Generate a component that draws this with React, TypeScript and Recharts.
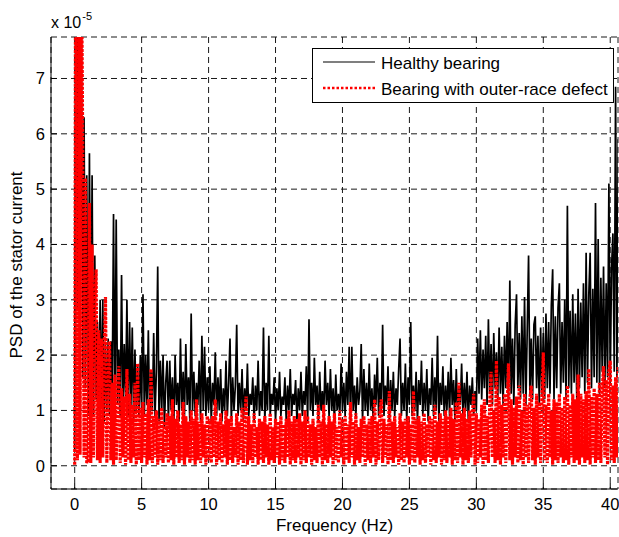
import React from "react";
import { LineChart, Line, XAxis, YAxis, CartesianGrid, Legend } from "recharts";

// PSD of the stator current, sampled every 0.1 Hz from 0 Hz (values in units of 1e-5)
const FREQ_STEP = 0.1;

const healthyPsd = [
  0.3, 13.5, 2.8, 11.0, 3.5, 8.0, 1.6, 6.3, 1.4, 5.25,
  0.9, 5.65, 1.3, 5.25, 0.9, 3.8, 1.2, 2.6, 1.0, 3.0,
  1.1, 3.0, 0.8, 2.2, 1.0, 2.3, 0.9, 2.25, 1.2, 4.55,
  0.8, 4.45, 1.1, 2.1, 0.9, 3.45, 1.0, 2.2, 1.2, 3.0,
  0.9, 2.6, 1.1, 2.5, 0.8, 2.1, 1.0, 1.8, 0.9, 2.0,
  1.0, 3.1, 0.9, 2.0, 1.1, 2.45, 0.8, 1.7, 1.0, 2.4,
  0.9, 1.7, 3.6, 0.8, 1.9, 1.0, 2.0, 0.7, 1.5, 1.9,
  0.8, 1.9, 1.0, 1.6, 0.7, 2.0, 1.1, 1.5, 0.8, 2.3,
  1.0, 1.7, 0.9, 2.2, 1.1, 1.6, 0.8, 2.75, 1.0, 1.7,
  0.9, 1.5, 1.1, 1.9, 0.8, 2.35, 1.0, 2.15, 0.9, 1.6,
  1.0, 1.8, 0.8, 1.5, 1.1, 2.05, 0.9, 1.6, 1.0, 1.75,
  0.8, 1.4, 1.0, 1.9, 0.9, 1.5, 2.3, 0.8, 1.6, 1.0,
  1.45, 2.55, 0.9, 1.5, 1.0, 1.75, 0.8, 1.4, 1.0, 1.85,
  0.9, 1.3, 1.1, 1.6, 0.8, 1.45, 1.0, 1.9, 0.9, 1.35,
  1.0, 2.5, 0.8, 1.5, 1.0, 2.35, 0.9, 1.3, 1.1, 1.6,
  0.8, 1.4, 1.0, 1.7, 0.9, 1.25, 1.1, 1.6, 0.8, 1.45,
  1.0, 1.75, 0.9, 1.3, 1.1, 1.55, 0.8, 1.4, 1.0, 1.7,
  0.9, 1.35, 1.1, 1.8, 0.8, 2.65, 1.0, 1.5, 0.9, 1.95,
  1.1, 1.45, 0.8, 1.7, 1.0, 1.35, 0.9, 1.9, 1.1, 1.5,
  0.9, 1.75, 1.0, 1.4, 0.8, 1.65, 1.0, 1.3, 0.9, 1.85,
  1.0, 1.5, 0.9, 1.7, 1.1, 2.15, 0.8, 2.15, 1.0, 1.45,
  0.9, 1.6, 1.1, 1.35, 2.2, 0.8, 1.75, 1.0, 1.5, 0.9,
  1.85, 1.0, 1.4, 0.8, 1.65, 1.1, 1.95, 0.9, 1.5, 1.0,
  2.55, 0.9, 1.45, 1.1, 1.8, 0.8, 1.55, 1.0, 1.7, 0.9,
  1.4, 1.1, 1.75, 2.3, 0.9, 1.5, 1.0, 1.85, 0.8, 1.6,
  1.1, 2.6, 0.9, 1.45, 1.0, 1.7, 0.8, 1.55, 1.1, 1.9,
  0.9, 1.5, 1.0, 1.75, 0.8, 1.4, 1.1, 1.95, 0.9, 1.6,
  1.0, 2.35, 0.8, 1.5, 1.1, 1.8, 0.9, 1.45, 1.0, 1.7,
  0.9, 1.95, 1.1, 1.55, 0.8, 1.75, 1.0, 1.4, 1.1, 1.85,
  0.9, 1.5, 1.0, 1.7, 0.8, 1.45, 1.1, 1.6, 0.9, 1.35,
  1.0, 2.3, 1.3, 2.45, 1.2, 2.1, 1.4, 2.35, 1.1, 2.65,
  1.3, 2.2, 1.1, 2.4, 1.4, 2.05, 1.2, 2.5, 1.3, 2.15,
  1.1, 2.35, 1.4, 2.6, 1.2, 3.35, 1.3, 2.3, 1.1, 2.55,
  3.1, 1.4, 2.4, 1.2, 2.7, 1.3, 3.05, 1.1, 2.45, 3.8,
  1.3, 2.3, 1.2, 2.55, 2.7, 1.4, 2.35, 1.1, 2.5, 1.3,
  2.4, 1.2, 2.75, 1.4, 2.6, 1.3, 2.9, 3.55, 1.2, 2.7,
  1.4, 2.85, 3.3, 1.3, 2.6, 1.5, 3.0, 1.2, 4.7, 1.4,
  2.8, 1.3, 3.1, 1.5, 2.75, 1.2, 3.2, 1.4, 2.95, 1.6,
  3.3, 1.3, 3.85, 1.5, 3.1, 3.85, 1.4, 3.2, 1.6, 4.75,
  1.5, 4.1, 1.3, 3.4, 1.7, 3.6, 1.4, 3.3, 1.6, 5.1,
  1.5, 3.6, 4.2, 1.7, 6.85, 1.6, 5.9,
];

const defectPsd = [
  0.02, 14.0, 0.1, 12.5, 0.2, 9.5, 5.7, 0.15, 5.2, 0.05,
  0.1, 4.75, 0.05, 4.0, 0.15, 2.9, 3.55, 0.1, 2.45, 0.05,
  2.3, 0.15, 1.9, 3.05, 0.05, 1.6, 2.25, 0.1, 1.5, 0.02,
  1.65, 0.1, 1.2, 1.8, 0.05, 1.4, 0.15, 1.25, 0.02, 1.75,
  0.1, 1.3, 0.05, 1.1, 0.15, 1.5, 0.02, 1.85, 0.1, 1.05,
  0.05, 1.15, 0.15, 0.95, 0.02, 1.2, 0.1, 1.75, 0.05, 0.9,
  0.15, 1.0, 0.02, 0.85, 0.1, 1.05, 0.05, 0.8, 0.15, 0.95,
  0.05, 0.9, 0.1, 1.2, 0.02, 0.85, 0.15, 1.0, 0.05, 0.75,
  0.1, 1.15, 0.02, 0.9, 0.15, 0.8, 0.05, 1.0, 0.1, 0.85,
  0.02, 1.2, 0.1, 0.8, 0.05, 0.95, 0.15, 0.75, 0.02, 0.9,
  0.1, 0.85, 0.05, 0.9, 0.15, 1.2, 0.02, 0.8, 0.1, 0.95,
  0.05, 0.75, 0.15, 1.0, 0.02, 0.85, 0.1, 0.9, 0.05, 0.7,
  0.15, 0.95, 0.02, 0.8, 0.1, 1.05, 0.05, 0.85, 1.25, 0.02,
  0.9, 0.1, 0.75, 0.05, 0.95, 0.15, 0.7, 0.02, 0.85, 0.1,
  0.8, 0.05, 0.9, 0.15, 0.75, 0.02, 0.95, 0.1, 0.7, 0.05,
  0.85, 0.15, 0.8, 0.02, 0.9, 0.1, 0.75, 0.05, 0.85, 0.15,
  1.0, 0.02, 0.8, 0.1, 0.9, 0.05, 0.85, 0.15, 0.95, 0.02,
  0.8, 0.1, 1.0, 0.05, 0.9, 0.15, 0.75, 0.02, 0.85, 0.1,
  0.7, 0.05, 1.1, 0.15, 0.8, 0.02, 1.1, 0.1, 0.75, 0.05,
  0.9, 0.15, 0.8, 0.02, 0.95, 0.1, 0.7, 0.05, 1.0, 0.15,
  0.85, 0.02, 0.9, 0.1, 0.75, 0.05, 1.15, 0.15, 0.8, 0.02,
  0.95, 0.1, 0.7, 0.05, 0.85, 0.15, 0.9, 0.02, 0.75, 0.1,
  0.85, 0.05, 0.9, 0.15, 1.2, 0.02, 0.8, 0.1, 0.95, 1.2,
  0.05, 0.85, 0.15, 0.75, 0.02, 1.35, 0.1, 0.8, 0.05, 0.9,
  0.15, 0.7, 0.02, 0.95, 0.1, 0.8, 0.05, 0.85, 0.15, 0.9,
  0.02, 0.75, 0.1, 1.35, 0.05, 0.85, 0.15, 0.9, 0.02, 0.8,
  0.1, 0.95, 0.05, 0.75, 0.15, 0.9, 0.02, 0.85, 0.1, 1.1,
  0.05, 0.8, 0.15, 0.95, 0.02, 0.85, 0.1, 1.0, 0.05, 0.9,
  0.15, 1.05, 0.02, 0.85, 0.1, 1.15, 0.05, 1.5, 0.15, 0.95,
  0.02, 1.05, 0.1, 0.85, 0.05, 1.0, 0.15, 0.9, 1.3, 0.02,
  0.95, 0.05, 0.85, 0.15, 1.1, 0.02, 1.2, 0.1, 0.9, 0.05,
  1.15, 1.7, 0.15, 1.0, 0.05, 1.9, 0.1, 1.25, 0.02, 1.1,
  0.15, 1.3, 0.05, 1.0, 1.85, 0.1, 1.2, 0.02, 1.05, 0.15,
  1.25, 0.05, 1.45, 0.1, 1.0, 0.02, 1.3, 0.15, 1.1, 0.05,
  1.2, 1.45, 0.1, 1.05, 0.02, 1.3, 0.15, 1.15, 0.05, 1.25,
  2.05, 0.1, 1.1, 0.05, 1.3, 0.15, 1.0, 0.02, 1.2, 0.1,
  1.15, 0.05, 1.3, 0.15, 1.05, 0.05, 1.25, 0.1, 1.45, 0.02,
  1.1, 0.15, 1.3, 0.05, 1.2, 0.1, 1.65, 0.02, 1.3, 0.15,
  1.2, 0.05, 1.35, 0.1, 1.75, 0.02, 1.25, 0.15, 1.4, 0.05,
  1.3, 0.1, 1.5, 0.05, 1.35, 1.8, 0.15, 1.55, 0.02, 1.7,
  1.9, 0.1, 1.45, 0.05, 1.6, 0.15, 1.8,
];

const seriesNames = ["Healthy bearing", "Bearing with outer-race defect"];
const xTicks = [0, 5, 10, 15, 20, 25, 30, 35, 40];
const yTicks = [0, 1, 2, 3, 4, 5, 6, 7];

const data = healthyPsd.map((v, i) => ({
  freq: Math.round(i * FREQ_STEP * 10) / 10,
  healthy: v,
  defect: defectPsd[i],
}));

const FONT = '"Liberation Sans", Arial, sans-serif';
const X_DOMAIN = [-1.77, 40.58];
const Y_DOMAIN = [-0.42, 7.75];

const renderLegend = () => (
  <svg width={302} height={55} style={{ display: "block" }}>
    <rect x={0.5} y={0.5} width={301} height={54} fill="#fff" stroke="#000" />
    <line x1={11} x2={63} y1={14} y2={14} stroke="#000" strokeWidth={1.2} />
    <text x={69} y={21} fontSize={17} fontFamily={FONT} fill="#000">
      {seriesNames[0]}
    </text>
    <line
      x1={11}
      x2={63}
      y1={40}
      y2={40}
      stroke="#ff0000"
      strokeWidth={2.5}
      strokeDasharray="2.5 2"
    />
    <text x={69} y={46.5} fontSize={17} fontFamily={FONT} fill="#000">
      {seriesNames[1]}
    </text>
  </svg>
);

const renderXTitle = () => (
  <text x={334.5} y={531} textAnchor="middle" fontSize={17} fontFamily={FONT} fill="#000">
    Frequency (Hz)
  </text>
);

// y title plus the MATLAB-style "x 10^-5" multiplier above the axis
const renderYTitle = () => (
  <g>
    <text
      x={22}
      y={265}
      textAnchor="middle"
      fontSize={17}
      fontFamily={FONT}
      fill="#000"
      transform="rotate(-90, 22, 265)"
    >
      PSD of the stator current
    </text>
    <text x={51} y={28.3} fontSize={16} fontFamily={FONT} fill="#000">
      x 10
      <tspan fontSize={11} dx={1} dy={-8.5}>
        -5
      </tspan>
    </text>
  </g>
);

const tickStyle = { fill: "#000", fontSize: 16.5, fontFamily: FONT };

export default function App() {
  return (
    <div style={{ position: "absolute", left: 0, top: 0, width: 619, height: 537, background: "#fff" }}>
      <LineChart
        width={619}
        height={537}
        data={data}
        margin={{ top: 37, right: 1, bottom: 18, left: 0 }}
      >
        <CartesianGrid stroke="#1a1a1a" strokeDasharray="6 4" />
        <XAxis
          dataKey="freq"
          type="number"
          domain={X_DOMAIN}
          ticks={xTicks}
          allowDataOverflow
          interval={0}
          height={30}
          tickSize={-6}
          tickMargin={15}
          tick={tickStyle}
          stroke="#000"
          label={renderXTitle}
        />
        <XAxis
          xAxisId="top"
          orientation="top"
          dataKey="freq"
          type="number"
          domain={X_DOMAIN}
          ticks={xTicks}
          allowDataOverflow
          interval={0}
          height={0}
          tickSize={-6}
          tickFormatter={() => ""}
          stroke="#000"
        />
        <YAxis
          type="number"
          domain={Y_DOMAIN}
          ticks={yTicks}
          allowDataOverflow
          interval={0}
          width={51}
          tickSize={-6}
          tickMargin={12}
          tick={tickStyle}
          stroke="#000"
          label={renderYTitle}
        />
        <YAxis
          yAxisId="right"
          orientation="right"
          type="number"
          domain={Y_DOMAIN}
          ticks={yTicks}
          allowDataOverflow
          interval={0}
          width={0}
          tickSize={-6}
          tickFormatter={() => ""}
          stroke="#000"
        />
        <Line
          dataKey="healthy"
          name={seriesNames[0]}
          type="linear"
          stroke="#000"
          strokeWidth={1.7}
          dot={false}
          isAnimationActive={false}
        />
        <Line
          dataKey="defect"
          name={seriesNames[1]}
          type="linear"
          stroke="#ff0000"
          strokeWidth={3.2}
          strokeDasharray="3 1.2"
          dot={false}
          isAnimationActive={false}
        />
        <Legend
          layout="vertical"
          align="center"
          verticalAlign="middle"
          content={renderLegend}
          wrapperStyle={{ left: 312, top: 48, width: 302, height: 55 }}
        />
      </LineChart>
    </div>
  );
}
